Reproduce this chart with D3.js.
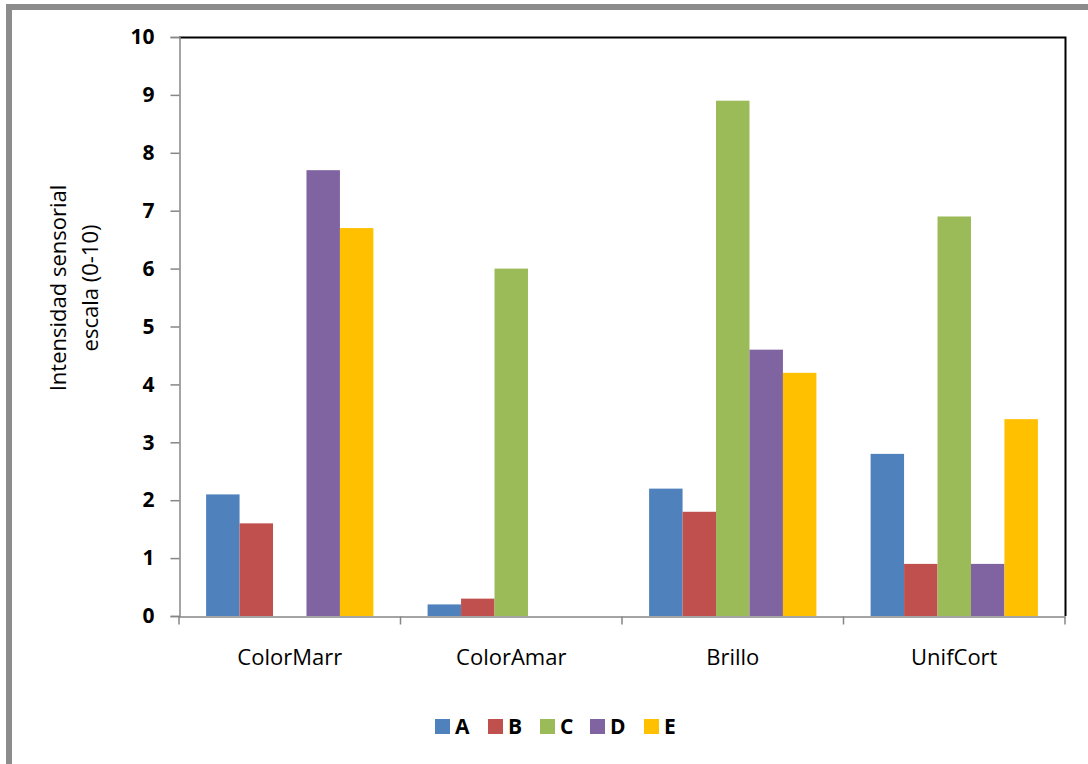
<!DOCTYPE html>
<html>
<head>
<meta charset="utf-8">
<script src="https://cdn.jsdelivr.net/npm/d3@7"></script>
<style>
  html, body { margin: 0; padding: 0; background: #fff; }
  svg { display: block; }
</style>
</head>
<body>
<svg id="chart" width="1088" height="764"></svg>
<script>
// Sensory attributes and panel samples
const categories = ["ColorMarr", "ColorAmar", "Brillo", "UnifCort"];
const series = ["A", "B", "C", "D", "E"];
const colors = ["#4F81BD", "#C0504D", "#9BBB59", "#8064A2", "#FFC000"];
// Scores per sample, in category order (null = no bar)
const valuesA = [2.1, 0.2, 2.2, 2.8];
const valuesB = [1.6, 0.3, 1.8, 0.9];
const valuesC = [null, 6.0, 8.9, 6.9];
const valuesD = [7.7, null, 4.6, 0.9];
const valuesE = [6.7, null, 4.2, 3.4];
const yTicks = [0, 1, 2, 3, 4, 5, 6, 7, 8, 9, 10];

const allValues = [valuesA, valuesB, valuesC, valuesD, valuesE];
const font = "'Open Sans', sans-serif";

const svg = d3.select("#chart");

// outer frame
svg.append("rect")
  .attr("x", 9).attr("y", 7).attr("width", 1100).attr("height", 800)
  .attr("fill", "none").attr("stroke", "#8c8c8c").attr("stroke-width", 6);

const plot = { left: 179, right: 1065, top: 37, bottom: 616 };

const x0 = d3.scaleBand().domain(categories).range([plot.left, plot.right]).padding(0);
const x1 = d3.scaleBand().domain(series).range([0, x0.bandwidth()])
  .paddingInner(0).paddingOuter(0.81);
const y = d3.scaleLinear().domain([0, 10]).range([plot.bottom, plot.top]);

// plot area border (top & right)
svg.append("path")
  .attr("d", `M${plot.left},${plot.top + 0.5}H${plot.right + 0.5}V${plot.bottom}`)
  .attr("fill", "none").attr("stroke", "#000").attr("stroke-width", 2);

// bars
const rows = [];
categories.forEach((c, ci) => {
  series.forEach((s, si) => {
    const v = allValues[si][ci];
    if (v != null) rows.push({ c, s, v, color: colors[si] });
  });
});
svg.append("g").selectAll("rect").data(rows).join("rect")
  .attr("x", d => x0(d.c) + x1(d.s))
  .attr("y", d => y(d.v))
  .attr("width", x1.bandwidth())
  .attr("height", d => y(0) - y(d.v))
  .attr("fill", d => d.color);

// y axis
const yAxis = svg.append("g")
  .attr("transform", `translate(${plot.left + 0.5},0)`)
  .call(d3.axisLeft(y).tickValues(yTicks).tickSize(9).tickPadding(16).tickFormat(d3.format("d")));
yAxis.select(".domain").attr("stroke", "#868686").attr("stroke-width", 1.5);
yAxis.selectAll(".tick line").attr("stroke", "#868686").attr("stroke-width", 1.5);
yAxis.selectAll(".tick text")
  .attr("font-family", font).attr("font-size", 21).attr("font-weight", "bold").attr("fill", "#000");

// x axis
const xAxis = svg.append("g")
  .attr("transform", `translate(0,${plot.bottom + 0.5})`)
  .call(d3.axisBottom(x0).tickSize(0).tickPadding(33));
xAxis.select(".domain").attr("stroke", "#868686").attr("stroke-width", 1.5);
xAxis.selectAll(".tick text")
  .attr("font-family", font).attr("font-size", 22).attr("fill", "#000");
// category separators
const bounds = categories.map(c => x0(c)).concat([plot.right]);
xAxis.selectAll(".sep").data(bounds).join("line")
  .attr("class", "sep")
  .attr("x1", d => d).attr("x2", d => d)
  .attr("y1", 0).attr("y2", 8)
  .attr("stroke", "#868686").attr("stroke-width", 1.5);

// y axis title
const yTitle = svg.append("text")
  .attr("transform", "translate(66,288) rotate(-90)")
  .attr("text-anchor", "middle")
  .attr("font-family", font).attr("font-size", 22).attr("fill", "#000");
yTitle.append("tspan").attr("x", 0).attr("dy", 0).text("Intensidad sensorial");
yTitle.append("tspan").attr("x", 0).attr("dy", 32).text("escala (0-10)");

// legend
const legendX = [435, 488, 540, 590, 644];
const legend = svg.append("g").selectAll("g").data(series).join("g")
  .attr("transform", (d, i) => `translate(${legendX[i]},719)`);
legend.append("rect").attr("width", 15).attr("height", 15)
  .attr("fill", (d, i) => colors[i]);
legend.append("text").attr("x", 20).attr("y", 15)
  .attr("font-family", font).attr("font-size", 21).attr("font-weight", "bold")
  .attr("fill", "#000").text(d => d);
</script>
</body>
</html>
